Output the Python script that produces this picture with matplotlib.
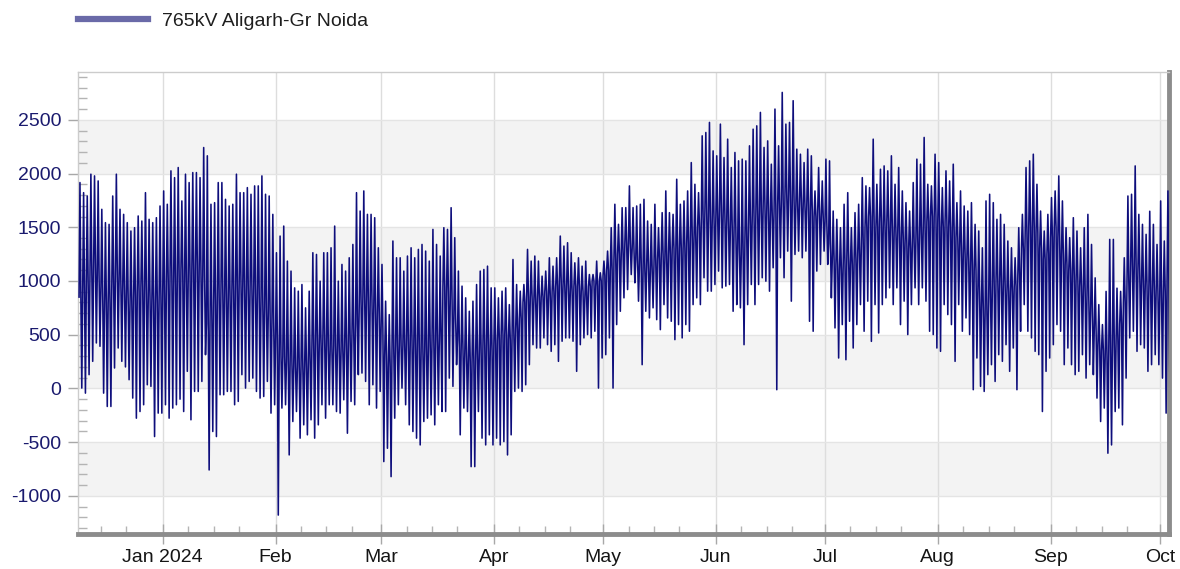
import numpy as np
import matplotlib
matplotlib.use("Agg")
import matplotlib.pyplot as plt
import matplotlib.dates as mdates
from matplotlib.ticker import MultipleLocator, FuncFormatter
from matplotlib.lines import Line2D

plt.rcParams['font.family'] = ['Liberation Sans', 'DejaVu Sans']
plt.rcParams['axes.unicode_minus'] = False

# ---------------- data (MW), one entry per day from 2023-12-09 ----------------
start_date = '2023-12-09'
series_name = '765kV Aligarh-Gr Noida'

day_high = [
    1916, 1822, 1791, 1994, 1978, 1931, 1667, 1543, 1527, 1791,
    1994, 1667, 1620, 1543, 1465, 1496, 1605, 1558, 1822, 1574,
    1543, 1589, 1698, 1838, 1714, 2025, 1962, 2056, 1745, 1994,
    1916, 2009, 2009, 1962, 2242, 2165, 1714, 1729, 1916, 1916,
    1760, 1698, 1714, 1994, 1822, 1822, 1869, 1807, 1885, 1885,
    1978, 1807, 1791, 1620, 1263, 1418, 1511, 1185, 1092, 936,
    905, 967, 750, 905, 1263, 1247, 998, 1263, 1263, 1309,
    1511, 998, 1154, 1092, 1216, 1340, 1822, 1651, 1838, 1620,
    1620, 1589, 1309, 1154, 812, 687, 1372, 1216, 1216, 1092,
    1232, 1309, 1216, 1294, 1340, 1278, 1185, 1480, 1340, 1232,
    1496, 1480, 1682, 1403, 1092, 952, 843, 718, 812, 967,
    1092, 1107, 1138, 936, 936, 843, 905, 936, 780, 1200,
    967, 905, 967, 1294, 1185, 1232, 1185, 1045, 1092, 1216,
    1138, 1216, 1418, 1325, 1356, 1263, 1169, 1216, 1138, 1185,
    1060, 1060, 1185, 1076, 1185, 1278, 1496, 1714, 1527, 1682,
    1683, 1885, 1683, 1698, 1714, 1760, 1558, 1527, 1714, 1496,
    1636, 1838, 1636, 1620, 1947, 1714, 1745, 1838, 2102, 1900,
    1822, 2351, 2382, 2476, 2211, 2165, 2460, 2149, 2320, 2056,
    2196, 2118, 2134, 2118, 2258, 2413, 2444, 2569, 2243, 2304,
    2087, 2600, 2258, 2755, 2460, 2476, 2678, 2227, 2180, 2102,
    2227, 2165, 1838, 2056, 1931, 2134, 2118, 1651, 1574, 1496,
    1714, 1822, 1496, 1636, 1714, 1962, 1885, 1869, 2320, 1900,
    2040, 2071, 2025, 2165, 1900, 2056, 1838, 1729, 1651, 1916,
    2134, 2087, 2336, 1900, 1885, 2180, 2102, 1869, 2025, 1931,
    2087, 1729, 1838, 1698, 1651, 1729, 1527, 1465, 1309, 1745,
    1807, 1729, 1574, 1620, 1527, 1372, 1309, 1216, 1496, 1620,
    2056, 2118, 2180, 1900, 1651, 1465, 1620, 1776, 1838, 1978,
    1745, 1496, 1403, 1589, 1465, 1309, 1496, 1620, 1340, 1029,
    780, 594, 903, 1387, 1387, 933, 903, 1216, 1791, 1807,
    2071, 1620, 1527, 1434, 1649, 1527, 1340, 1745, 1372, 1838,
]

day_low = [
    3, -44, 128, 252, 423, 392, -44, -168, -168, 190,
    376, 252, 200, 81, -90, -277, -215, -152, 34, 19,
    -448, -230, -230, -152, -277, -183, -152, -100, -215, 159,
    -292, -28, -28, 65, 314, -759, -401, -448, -59, -59,
    -28, -28, -152, -121, 128, 3, 65, 96, -28, -90,
    -75, 65, -230, -152, -1179, -183, -152, -619, -308, -215,
    -463, -339, -432, -292, -463, -339, -152, -277, -152, -152,
    -215, -230, -106, -417, -121, -152, 128, 143, 65, -152,
    34, -183, -28, -681, -557, -821, -277, -152, 3, -152,
    -339, -401, -463, -526, -308, -277, -246, -339, -152, -215,
    -215, 96, 19, 221, -432, -183, -215, -728, -728, -215,
    -463, -526, -432, -526, -463, -526, -495, -619, -432, -28,
    3, -28, 34, 221, 407, 376, 376, 470, 407, 345,
    407, 252, 439, 470, 470, 439, 159, 407, 470, 501,
    470, 532, 3, 283, 314, 470, 3, 594, 718, 843,
    920, 1060, 983, 812, 221, 718, 656, 750, 640, 547,
    780, 656, 625, 454, 594, 470, 594, 532, 780, 843,
    780, 1030, 905, 905, 967, 1092, 936, 952, 967, 718,
    780, 750, 407, 780, 967, 780, 967, 1030, 998, 905,
    1123, -12, 1216, 1030, 1278, 812, 1247, 1278, 1216, 1278,
    625, 532, 1092, 1154, 1278, 1154, 843, 563, 283, 594,
    267, 625, 376, 594, 780, 532, 812, 438, 780, 516,
    780, 843, 936, 780, 936, 594, 812, 501, 780, 936,
    780, 936, 812, 532, 501, 376, 345, 780, 687, 594,
    252, 780, 532, 656, 501, -12, 283, 19, -28, 128,
    221, 65, 314, 252, 407, 159, 376, -12, 532, 780,
    532, 470, 345, 314, -215, 159, 283, 407, 594, 532,
    221, 376, 221, 128, 159, 314, 96, 221, 128, -90,
    -308, -183, -603, -526, -215, -183, -339, 96, 470, 532,
    345, 407, 376, 159, 221, 314, 221, 96, -230, 159,
]

day_typical = [
    850, 900, 1000, 1100, 1150, 1050, 900, 800, 800, 950,
    1100, 1000, 950, 850, 800, 850, 900, 950, 900, 850,
    800, 800, 850, 900, 1000, 1050, 1000, 1050, 1100, 1000,
    1050, 1100, 1150, 1100, 1050, 600, 650, 800, 850, 900,
    850, 850, 900, 950, 1000, 950, 900, 950, 900, 850,
    800, 750, 700, 600, 450, 300, 300, 250, 250, 200,
    200, 200, 200, 250, 400, 450, 400, 450, 400, 350,
    400, 350, 350, 400, 450, 500, 600, 800, 850, 800,
    800, 750, 700, 550, 300, 200, 350, 400, 400, 400,
    450, 400, 400, 400, 350, 350, 400, 450, 450, 450,
    950, 900, 800, 650, 450, 350, 300, 250, 250, 300,
    350, 400, 400, 350, 400, 450, 500, 500, 450, 500,
    550, 650, 800, 850, 850, 800, 850, 850, 900, 850,
    900, 950, 1000, 950, 950, 900, 950, 950, 900, 850,
    950, 1000, 950, 1000, 1050, 1100, 1100, 1200, 1250, 1250,
    1350, 1350, 1300, 1200, 1150, 1100, 1150, 1100, 1150, 1200,
    1250, 1200, 1250, 1300, 1250, 1300, 1300, 1350, 1400, 1400,
    1500, 1600, 1650, 1600, 1550, 1600, 1650, 1600, 1550, 1500,
    1450, 1300, 1250, 1400, 1550, 1600, 1650, 1650, 1700, 1650,
    1600, 1650, 1700, 1750, 1800, 1800, 1750, 1700, 1750, 1700,
    1700, 1650, 1600, 1650, 1600, 1550, 1350, 1200, 1150, 1100,
    1150, 1200, 1150, 1200, 1250, 1350, 1500, 1600, 1550, 1500,
    1550, 1500, 1550, 1500, 1450, 1450, 1400, 1350, 1300, 1350,
    1400, 1450, 1500, 1550, 1600, 1600, 1550, 1500, 1550, 1500,
    1450, 1400, 1300, 1250, 1200, 1150, 1100, 900, 750, 700,
    850, 950, 1000, 1000, 950, 900, 900, 950, 1050, 1300,
    1450, 1500, 1500, 1450, 1300, 1200, 1250, 1400, 1500, 1400,
    1250, 1150, 1100, 1050, 1000, 950, 900, 850, 700, 550,
    400, 350, 300, 350, 400, 450, 600, 800, 1000, 1150,
    1150, 1100, 1000, 950, 900, 950, 900, 850, 900, 1000,
]

y_ticks = [-1000, -500, 0, 500, 1000, 1500, 2000, 2500]
shaded_bands = [(2000, 2500), (1000, 1500), (0, 500), (-1000, -500)]

# ---------------- build the sub-daily sequence ----------------
n_days = len(day_high)
days = np.datetime64(start_date) + np.arange(n_days).astype('timedelta64[D]')
sample_hours = np.array([0, 6, 12, 18]).astype('timedelta64[h]')
times = (days.astype('datetime64[h]')[:, None] + sample_hours[None, :]).ravel()
values = np.column_stack([day_typical, day_high, day_typical, day_low]).ravel()

# ---------------- figure ----------------
W, H = 1180, 569
fig = plt.figure(figsize=(W / 100, H / 100), dpi=100)
ax = fig.add_axes([78 / W, 1 - 534 / H, (1169 - 78) / W, (534 - 72) / H])

for lo, hi in shaded_bands:
    ax.axhspan(lo, hi, color='#f3f3f3', zorder=0, lw=0)

ax.plot(times.astype('datetime64[m]').astype(object), values,
        color='#0e0e7c', lw=1.15, zorder=3)

ax.set_xlim(np.datetime64('2023-12-08T17:00').astype(object),
            np.datetime64('2024-10-03T13:00').astype(object))
ax.set_ylim(-1355, 2945)

# grid
ax.set_axisbelow(True)
ax.yaxis.set_major_locator(MultipleLocator(500))
ax.yaxis.set_minor_locator(MultipleLocator(100))
ax.set_yticks(y_ticks)
ax.grid(axis='y', which='major', color='#e4e4e4', lw=1, zorder=1)
ax.xaxis.set_major_locator(mdates.MonthLocator())
ax.xaxis.set_minor_locator(mdates.DayLocator(bymonthday=[8, 15, 22]))


def month_fmt(x, pos):
    d = mdates.num2date(x)
    return d.strftime('%b %Y') if d.month == 1 else d.strftime('%b')


ax.xaxis.set_major_formatter(FuncFormatter(month_fmt))
ax.grid(axis='x', which='major', color='#dddddd', lw=1, zorder=1)

# ticks
ax.tick_params(axis='x', which='major', direction='inout', length=15, width=1,
               color='#a8a8a8', pad=3, labelsize=14, labelcolor='#151515')
ax.tick_params(axis='x', which='minor', direction='in', length=6, width=1,
               color='#b4b4b4')
ax.tick_params(axis='y', which='major', direction='out', length=7, width=1,
               color='#a8a8a8', pad=5, labelsize=14, labelcolor='#1a1a6e')
ax.tick_params(axis='y', which='minor', direction='in', length=6.5, width=1,
               color='#b4b4b4')

# frame
for side in ('left', 'top'):
    ax.spines[side].set_color('#cccccc')
    ax.spines[side].set_linewidth(1)
for side in ('bottom', 'right'):
    ax.spines[side].set_color('#8c8c8c')
    ax.spines[side].set_linewidth(3.5)

# legend
handle = Line2D([], [], color='#6a6aa8', lw=4.5)
ax.legend([handle], [series_name], loc='center left',
          bbox_to_anchor=(78 / W, 1 - 21 / H), bbox_transform=fig.transFigure,
          frameon=False, handlelength=3.6, handletextpad=0.7, borderpad=0,
          borderaxespad=0, fontsize=14, labelcolor='#1e1e1e')

fig.savefig('out.png', dpi=100)
